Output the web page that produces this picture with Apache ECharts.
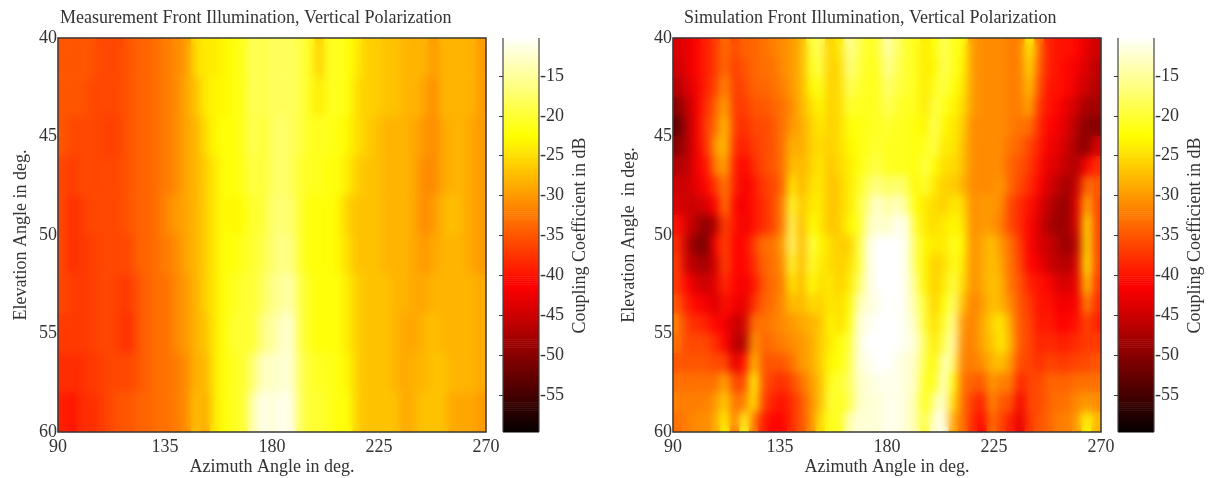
<!DOCTYPE html>
<html><head><meta charset="utf-8">
<style>
html,body{margin:0;padding:0;background:#fff;overflow:hidden}
#c{width:1210px;height:478px;position:absolute;left:0;top:0}
.soft{position:absolute;top:39px;height:392px;width:426px;-webkit-backdrop-filter:blur(5px);backdrop-filter:blur(5px);pointer-events:none}
</style>
<script src="https://cdn.jsdelivr.net/npm/echarts@6/dist/echarts.min.js"></script>
</head><body>
<div id="c"></div>
<div class="soft" style="left:59px"></div>
<div class="soft" style="left:674px"></div>
<script>
const azimuth = [92,96,100,104,108,112,116,120,124,128,132,136,140,144,148,152,156,160,164,168,172,176,180,184,188,192,196,200,204,208,212,216,220,224,228,232,236,240,244,248,252,256,260,264,268].map(String);
const elevationM = ['41','43','45','47','49','51','53','55','57','59'];
const elevationS = ['40.5','41.5','42.5','43.5','44.5','45.5','46.5','47.5','48.5','49.5','50.5','51.5','52.5','53.5','54.5','55.5','56.5','57.5','58.5','59.5'];
const m41 = [-35,-35,-35,-35,-36,-36,-36,-35,-34,-34,-33,-32,-31,-30,-25,-24,-24,-23,-22,-21,-18,-19, -18,-18,-18,-19,-21,-26,-21,-21,-22,-24,-26,-26,-27,-27,-28,-28,-28,-30,-28,-28,-28,-28,-30];
const m43 = [-35,-35,-35,-36,-36,-36,-36,-35,-34,-34,-33,-32,-31,-29,-27,-24,-23,-23,-22,-21,-18,-19, -18,-18,-18,-19,-21,-24,-21,-21,-22,-25,-26,-26,-27,-27,-28,-28,-29,-31,-28,-28,-28,-28,-30];
const m45 = [-35,-36,-36,-36,-36,-37,-36,-35,-34,-34,-33,-32,-31,-29,-28,-25,-23,-22,-22,-21,-18,-20, -18,-17,-18,-19,-21,-21,-21,-22,-23,-25,-26,-27,-28,-28,-28,-29,-30,-31,-29,-28,-28,-29,-30];
const m47 = [-36,-37,-36,-36,-36,-36,-36,-35,-34,-34,-33,-32,-31,-29,-28,-26,-24,-22,-22,-21,-19,-20, -18,-17,-18,-20,-21,-21,-22,-22,-24,-26,-27,-27,-28,-28,-28,-29,-31,-31,-29,-28,-28,-29,-30];
const m49 = [-36,-38,-37,-36,-36,-36,-36,-35,-34,-34,-33,-31,-30,-29,-28,-26,-24,-22,-23,-22,-20,-20, -17,-17,-17,-20,-22,-22,-22,-23,-26,-27,-27,-27,-28,-28,-28,-29,-31,-30,-28,-27,-28,-29,-30];
const m51 = [-36,-38,-37,-37,-36,-36,-36,-36,-34,-34,-33,-32,-31,-29,-28,-26,-24,-22,-22,-21,-20,-19, -17,-16,-16,-20,-22,-22,-22,-23,-25,-27,-27,-27,-28,-28,-28,-29,-30,-29,-28,-28,-28,-29,-30];
const m53 = [-36,-37,-37,-37,-36,-36,-37,-37,-35,-34,-33,-33,-31,-30,-28,-26,-24,-22,-21,-20,-20,-18, -16,-15,-14,-19,-21,-22,-22,-22,-24,-26,-27,-27,-27,-28,-28,-29,-29,-28,-28,-28,-28,-28,-29];
const m55 = [-37,-37,-37,-37,-36,-36,-37,-38,-35,-34,-33,-33,-31,-30,-28,-27,-24,-22,-20,-20,-20,-16, -15,-13,-12,-19,-21,-22,-22,-22,-24,-26,-27,-27,-27,-28,-29,-29,-28,-27,-28,-28,-28,-28,-29];
const m57 = [-38,-38,-38,-37,-37,-36,-36,-36,-35,-34,-33,-33,-32,-31,-28,-28,-24,-22,-21,-20,-17,-13, -13,-12,-12,-18,-20,-21,-21,-22,-23,-26,-27,-27,-27,-28,-29,-28,-28,-27,-27,-28,-28,-28,-29];
const m59 = [-39,-40,-38,-38,-37,-36,-35,-35,-34,-34,-33,-33,-32,-31,-27,-29,-24,-22,-21,-20,-14,-11, -12,-11,-11,-18,-20,-20,-21,-22,-22,-26,-27,-27,-27,-27,-29,-28,-27,-27,-27,-29,-29,-29,-30];
const s40 = [-44,-43,-41,-39,-37,-33,-36,-34,-34,-33,-32,-31,-30,-28,-20,-18,-26,-24,-15,-18,-21,-20, -14,-17,-20,-21,-24,-22,-18,-21,-22,-30,-31,-31,-31,-32,-32,-23,-33,-39,-40,-40,-41,-43,-45];
const s41 = [-45,-43,-41,-39,-37,-33,-37,-35,-34,-33,-33,-31,-30,-28,-21,-19,-26,-25,-16,-19,-21,-21, -15,-18,-20,-21,-24,-23,-18,-21,-23,-30,-31,-31,-31,-32,-32,-25,-34,-39,-40,-41,-42,-44,-46];
const s42 = [-47,-44,-42,-39,-36,-31,-37,-36,-34,-34,-33,-32,-30,-28,-23,-21,-26,-25,-18,-20,-21,-21, -17,-19,-20,-21,-24,-21,-19,-22,-24,-30,-31,-31,-31,-32,-32,-27,-35,-40,-40,-41,-43,-45,-47];
const s43 = [-50,-46,-42,-38,-34,-29,-37,-37,-35,-35,-34,-33,-31,-28,-25,-23,-26,-25,-20,-21,-21,-21, -18,-20,-21,-21,-24,-19,-21,-23,-25,-30,-31,-31,-31,-32,-32,-29,-37,-40,-41,-43,-45,-48,-48];
const s44 = [-53,-47,-42,-37,-33,-27,-37,-38,-36,-36,-35,-33,-30,-29,-26,-24,-26,-25,-22,-22,-21,-21, -20,-21,-21,-22,-23,-18,-23,-24,-26,-31,-31,-31,-31,-32,-33,-33,-38,-41,-42,-44,-47,-50,-50];
const s45 = [-50,-47,-42,-38,-30,-27,-38,-39,-37,-36,-35,-33,-28,-29,-26,-25,-26,-25,-23,-22,-21,-20, -21,-21,-21,-22,-21,-19,-24,-24,-27,-31,-31,-31,-31,-33,-34,-36,-39,-42,-43,-45,-48,-50,-44];
const s46 = [-47,-46,-42,-40,-32,-29,-39,-41,-38,-36,-35,-33,-27,-28,-26,-24,-27,-25,-24,-22,-20,-19, -21,-21,-21,-22,-19,-22,-25,-25,-27,-31,-31,-31,-31,-34,-35,-37,-40,-43,-44,-46,-47,-41,-38];
const s47 = [-45,-45,-43,-41,-37,-32,-39,-42,-40,-37,-36,-34,-24,-28,-25,-24,-27,-26,-24,-21,-18,-16, -18,-17,-18,-23,-20,-24,-26,-26,-28,-31,-31,-31,-30,-34,-36,-38,-41,-44,-46,-48,-45,-33,-35];
const s48 = [-44,-45,-45,-44,-41,-32,-41,-42,-40,-38,-36,-32,-20,-27,-24,-24,-27,-26,-24,-20,-16,-12, -15,-13,-15,-22,-24,-25,-26,-24,-25,-31,-30,-30,-31,-36,-38,-40,-43,-46,-48,-49,-43,-28,-36];
const s49 = [-40,-44,-47,-50,-46,-36,-40,-42,-40,-38,-36,-32,-18,-28,-22,-24,-27,-26,-23,-21,-14,-12, -13,-11,-11,-20,-24,-25,-24,-23,-24,-31,-30,-30,-32,-36,-38,-41,-44,-47,-49,-48,-44,-24,-36];
const s50 = [-38,-46,-50,-51,-41,-36,-41,-41,-37,-33,-33,-30,-17,-28,-19,-23,-25,-26,-26,-20,-12,-10, -10,-10,-11,-18,-23,-24,-24,-21,-23,-31,-29,-27,-30,-33,-37,-41,-44,-45,-47,-49,-46,-24,-36];
const s51 = [-37,-45,-47,-48,-44,-36,-41,-41,-38,-34,-33,-31,-20,-28,-20,-24,-25,-26,-25,-20,-12,-10, -10,-10,-11,-18,-23,-26,-25,-21,-24,-31,-29,-27,-29,-33,-36,-41,-42,-45,-46,-47,-44,-23,-36];
const s52 = [-37,-41,-44,-45,-43,-38,-41,-42,-40,-35,-33,-32,-24,-28,-22,-25,-24,-26,-24,-18,-12,-10, -10,-10,-11,-16,-23,-26,-24,-19,-25,-31,-29,-27,-28,-33,-35,-39,-40,-41,-44,-44,-43,-26,-37];
const s53 = [-35,-39,-41,-42,-44,-40,-42,-43,-38,-34,-33,-31,-27,-28,-25,-26,-24,-25,-23,-14,-12,-11, -10,-10,-11,-15,-20,-26,-22,-17,-27,-32,-30,-27,-28,-31,-35,-37,-40,-40,-42,-42,-42,-31,-38];
const s54 = [-32,-37,-38,-39,-41,-42,-45,-45,-33,-33,-32,-31,-30,-29,-28,-27,-23,-25,-22,-12,-11,-10, -10,-10,-11,-13,-20,-25,-20,-15,-30,-32,-29,-26,-24,-29,-35,-36,-40,-39,-41,-41,-40,-36,-39];
const s55 = [-33,-36,-36,-36,-38,-41,-46,-47,-30,-34,-33,-32,-31,-30,-29,-26,-24,-22,-20,-12,-10,-10, -10,-10,-11,-12,-18,-24,-18,-14,-31,-32,-29,-27,-24,-28,-35,-36,-39,-38,-39,-39,-38,-37,-37];
const s56 = [-35,-35,-35,-35,-36,-36,-43,-40,-27,-35,-35,-35,-33,-30,-29,-26,-23,-22,-19,-12,-11,-10, -10,-11,-12,-13,-19,-23,-13,-17,-32,-32,-31,-28,-27,-30,-36,-36,-38,-36,-37,-37,-36,-36,-35];
const s57 = [-33,-33,-33,-33,-33,-29,-36,-36,-22,-35,-37,-38,-36,-33,-30,-27,-21,-20,-18,-13,-12,-11, -11,-11,-12,-13,-21,-21,-12,-22,-33,-34,-35,-30,-32,-32,-39,-36,-36,-34,-34,-34,-33,-33,-33];
const s58 = [-32,-32,-32,-32,-30,-26,-33,-32,-24,-36,-39,-40,-38,-35,-31,-27,-20,-21,-19,-13,-12,-12, -11,-11,-12,-14,-22,-15,-12,-25,-33,-37,-39,-31,-35,-35,-42,-36,-36,-34,-33,-33,-31,-30,-31];
const s59 = [-33,-32,-31,-31,-29,-23,-33,-21,-32,-39,-41,-41,-38,-35,-31,-25,-21,-21,-14,-12,-12,-12, -11,-11,-12,-14,-20,-12,-11,-29,-33,-38,-41,-33,-36,-39,-43,-37,-35,-34,-32,-32,-30,-22,-28];
const measuredRows = [m41,m43,m45,m47,m49,m51,m53,m55,m57,m59];
const simulatedRows = [s40,s41,s42,s43,s44,s45,s46,s47,s48,s49,s50,s51,s52,s53,s54,s55,s56,s57,s58,s59];
const titles = ['Measurement Front Illumination, Vertical Polarization','Simulation Front Illumination, Vertical Polarization'];
const yNames = ['Elevation Angle in deg.','Elevation Angle  in deg.'];
const xName = 'Azimuth Angle in deg.';
const barName = 'Coupling Coefficient in dB';
const barTicks = [-55,-50,-45,-40,-35,-30,-25,-20,-15];
const barLow = -59.6, barHigh = -10.25, barSteps = 200;
const hot = ['#000000','#550000','#aa0000','#ff0000','#ff5500','#ffaa00','#ffff00','#ffff80','#ffffff'];

const FONT = '"Liberation Serif"', INK = '#333', SIZE = 18;
const toCells = rows => rows.flatMap((r,j)=>r.map((v,i)=>[i,j,v]));
const levels = Array.from({length:barSteps},(_,k)=>{const m=barLow+(k+.5)*(barHigh-barLow)/barSteps;return [0,m,m];});
const text = {fontFamily:FONT,fontSize:SIZE,color:INK};
const panelX = [58,673], barX = [503,1118], yGap = [28,35];
const grid=[],xAxis=[],yAxis=[],series=[],title=[];
panelX.forEach((px,p)=>{
  const g = grid.length;
  grid.push({left:px,top:38,width:428,height:394,show:true,z:3,borderColor:'#3a3a3a',borderWidth:1.5,backgroundColor:'transparent',outerBoundsMode:'none'});
  grid.push({left:barX[p],top:36,width:36,height:399,outerBoundsMode:'none'});
  const rows = p? simulatedRows: measuredRows;
  const xi = xAxis.length, yi = yAxis.length;
  xAxis.push({type:'category',gridIndex:g,data:azimuth,show:false});
  xAxis.push({type:'value',gridIndex:g,min:90,max:270,interval:45,position:'bottom',name:xName,nameLocation:'middle',nameGap:26,nameMoveOverlap:false,nameTextStyle:text,
    axisLine:{show:false},axisTick:{show:false},splitLine:{show:false},axisLabel:{...text,margin:6,showMinLabel:true,showMaxLabel:true,hideOverlap:false}});
  xAxis.push({type:'value',gridIndex:g+1,min:0,max:1,show:false});
  yAxis.push({type:'category',gridIndex:g,data:p?elevationS:elevationM,inverse:true,show:false});
  yAxis.push({type:'value',gridIndex:g,min:40,max:60,interval:5,inverse:true,position:'left',name:yNames[p],nameLocation:'middle',nameGap:yGap[p],nameRotate:90,nameTextStyle:text,
    axisLine:{show:false},axisTick:{show:false},splitLine:{show:false},axisLabel:{...text,margin:1,padding:[4,0,0,0],showMinLabel:true,showMaxLabel:true,hideOverlap:false}});
  const tickBase = {show:true,inside:true,length:4,customValues:barTicks,lineStyle:{color:'#333',width:1}};
  yAxis.push({type:'value',gridIndex:g+1,min:-60,max:-10,interval:5,position:'right',name:barName,nameLocation:'middle',nameGap:32,nameRotate:90,nameTextStyle:text,
    axisLine:{show:false},axisTick:tickBase,splitLine:{show:false},axisLabel:{...text,margin:1,padding:[2,0,0,0],customValues:barTicks}});
  yAxis.push({type:'value',gridIndex:g+1,min:-60,max:-10,interval:5,position:'left',
    axisLine:{show:false},axisTick:tickBase,splitLine:{show:false},axisLabel:{show:false}});
  series.push({type:'heatmap',xAxisIndex:xi,yAxisIndex:yi,data:toCells(rows),z:1,progressive:0,animation:false,emphasis:{disabled:true}});
  series.push({type:'custom',xAxisIndex:xi+2,yAxisIndex:yi+2,data:levels,encode:{x:0,y:1},animation:false,silent:true,clip:false,
    renderItem:(params,api)=>{
      const half=(barHigh-barLow)/barSteps/2, m=api.value(1);
      const a=api.coord([0,m+half]), b=api.coord([1,m-half]);
      const children=[{type:'rect',z2:1,shape:{x:a[0],y:a[1],width:b[0]-a[0],height:b[1]-a[1]+.6},style:{fill:api.visual('color')}}];
      if(params.dataIndex===barSteps-1){
        const end=api.coord([0,barLow]), stroke={stroke:'#444',lineWidth:1.2};
        children.push({type:'line',z2:2,shape:{x1:a[0],y1:a[1],x2:a[0],y2:end[1]},style:stroke},
                      {type:'line',z2:2,shape:{x1:b[0],y1:a[1],x2:b[0],y2:end[1]},style:stroke});
      }
      return {type:'group',children};
    }});
  title.push({text:titles[p],left:p?679:55,top:4,textStyle:{...text,fontWeight:'normal'}});
});
const chart = echarts.init(document.getElementById('c'),null,{renderer:'canvas'});
chart.setOption({animation:false,backgroundColor:'#fff',title,grid,xAxis,yAxis,series,
  visualMap:{show:false,type:'continuous',min:-60,max:-10,dimension:2,seriesIndex:[0,1,2,3],inRange:{color:hot}}});
</script>
</body></html>
